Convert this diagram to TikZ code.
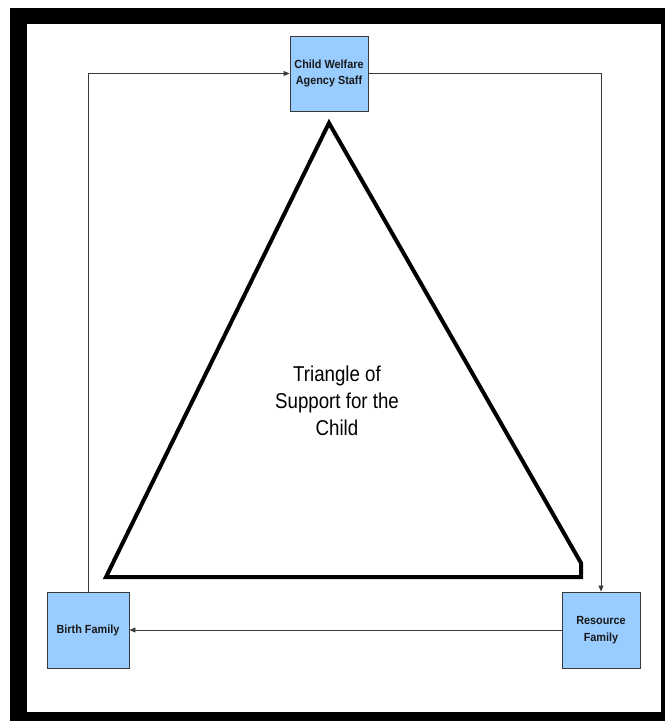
\documentclass[tikz,border=0pt]{standalone}
\usepackage{fontspec}
\setmainfont{Liberation Sans}
\newfontfamily\boxfont[FakeStretch=0.92]{Liberation Sans}
\newfontfamily\midfont[FakeStretch=0.87]{Liberation Sans}
\usetikzlibrary{arrows.meta}
\definecolor{boxblue}{HTML}{99CCFF}
\definecolor{edgegray}{HTML}{3A3A3A}
\tikzset{
  party/.style={draw=edgegray, line width=0.9pt, fill=boxblue, inner sep=1pt,
    align=center, text=black!90,
    font=\boxfont\bfseries\fontsize{11.8}{16.5}\selectfont},
  conn/.style={draw=edgegray, line width=0.9pt,
    -{Triangle[length=6pt,width=5pt]}},
}
\begin{document}
\begin{tikzpicture}[x=1pt,y=-1pt]
\useasboundingbox (0,0) rectangle (665,721);
% heavy black frame, cut off at the right and bottom edges
\fill[black] (10,8) rectangle (665,721);
\fill[white] (27,24) rectangle (661,712);

% the three parties
\node[party, minimum width=78pt, minimum height=75pt] (cwa) at (329,73.5)
  {Child Welfare\\Agency Staff};
\node[party, minimum width=82pt, minimum height=76pt] (birth) at (88,630)
  {Birth Family};
\node[party, minimum width=78pt, minimum height=76pt] (res) at (601,630)
  {Resource\\Family};

% connectors between the parties
\draw[conn] (birth.north) |- (cwa.west);
\draw[conn] (cwa.east) -| (res.north);
\draw[conn] (res.west) -- (birth.east);

% the triangle of support
\coordinate (apex) at (329,123);
\coordinate (bl) at (106,577);
\coordinate (br) at (581,577);
\coordinate (brs) at (581,563);
\draw[line width=4pt, line join=miter] (apex) -- (brs) -- (br) -- (bl) -- cycle;
\node[align=center, font=\midfont\fontsize{21.5}{27}\selectfont] (label) at (337,401)
  {Triangle of\\Support for the\\Child};
\end{tikzpicture}
\end{document}
